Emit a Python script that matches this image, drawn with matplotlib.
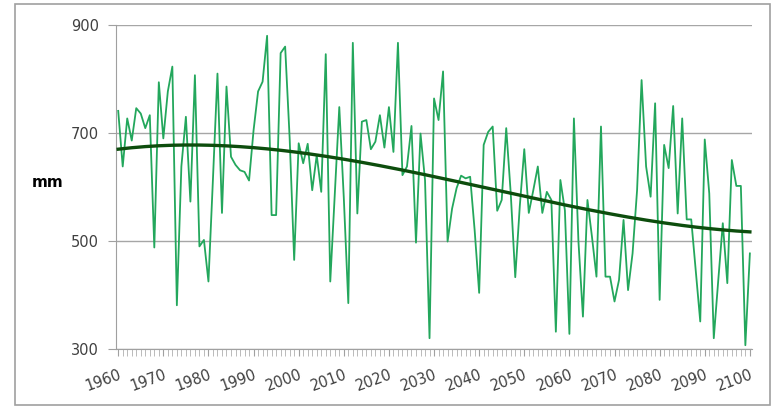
import numpy as np
import matplotlib
matplotlib.use("Agg")
import matplotlib.pyplot as plt
from matplotlib.patches import Rectangle

years = np.arange(1960, 2101)

# annual precipitation (mm)
precip = [
    741, 638, 727, 686, 746, 736, 709, 733, 488, 794,
    690, 777, 823, 381, 638, 730, 573, 807, 490, 502,
    425, 615, 810, 552, 786, 656, 641, 631, 628, 612,
    705, 777, 795, 880, 548, 548, 848, 860, 690, 465,
    681, 644, 680, 594, 659, 591, 846, 425, 588, 748,
    580, 385, 867, 551, 721, 724, 670, 684, 733, 673,
    748, 665, 867, 622, 638, 713, 497, 699, 613, 320,
    764, 724, 814, 499, 560, 598, 621, 616, 619, 520,
    404, 678, 702, 712, 556, 576, 709, 588, 433, 564,
    670, 552, 594, 638, 552, 591, 576, 332, 613, 557,
    328, 727, 500, 360, 576, 508, 434, 712, 434, 434,
    388, 428, 539, 409, 477, 594, 798, 638, 582, 755,
    391, 678, 635, 750, 551, 727, 540, 540, 446, 351,
    688, 588, 320, 428, 533, 422, 650, 602, 602, 307,
    477,
]

tick_years = list(range(1960, 2101, 10))
y_ticks = [300, 500, 700, 900]

# 3rd order polynomial trend line, as in the spreadsheet
coef = np.polyfit(years - 2030, precip, 3)
trend = np.polyval(coef, years - 2030)

fig = plt.figure(figsize=(7.73, 4.08), dpi=100)
ax = fig.add_axes([0.150, 0.1446, 0.823, 0.7941])

ax.plot(years, precip, color="#23a75c", lw=1.3, zorder=3)
ax.plot(years, trend, color="#0d4d0d", lw=2.4, zorder=4)

ax.set_xlim(1959.5, 2100.5)
ax.set_ylim(300, 900)
ax.set_yticks(y_ticks)
ax.set_xticks(tick_years)
ax.set_xticks(years, minor=True)
ax.set_xticklabels([str(y) for y in tick_years], rotation=20, ha="right",
                   rotation_mode="anchor")
ax.tick_params(axis="x", which="major", length=5, color="#a0a0a0",
               labelsize=10.5, labelcolor="#404040", pad=8)
ax.tick_params(axis="x", which="minor", length=5, color="#b0b0b0")
ax.tick_params(axis="y", length=6, color="#a0a0a0", labelsize=10.5,
               labelcolor="#404040", pad=6)

ax.grid(axis="y", color="#a6a6a6", lw=1)
ax.set_axisbelow(True)
for side in ["top", "right"]:
    ax.spines[side].set_visible(False)
for side in ["left", "bottom"]:
    ax.spines[side].set_color("#a0a0a0")

fig.text(0.061, 0.552, "mm", fontsize=11, fontweight="bold", ha="center",
         va="center")

fig.patches.append(Rectangle((0.020, 0.008), 0.976, 0.982,
                             transform=fig.transFigure, fill=False,
                             edgecolor="#a0a0a0", lw=1.2))

fig.savefig("out.png", dpi=100)
